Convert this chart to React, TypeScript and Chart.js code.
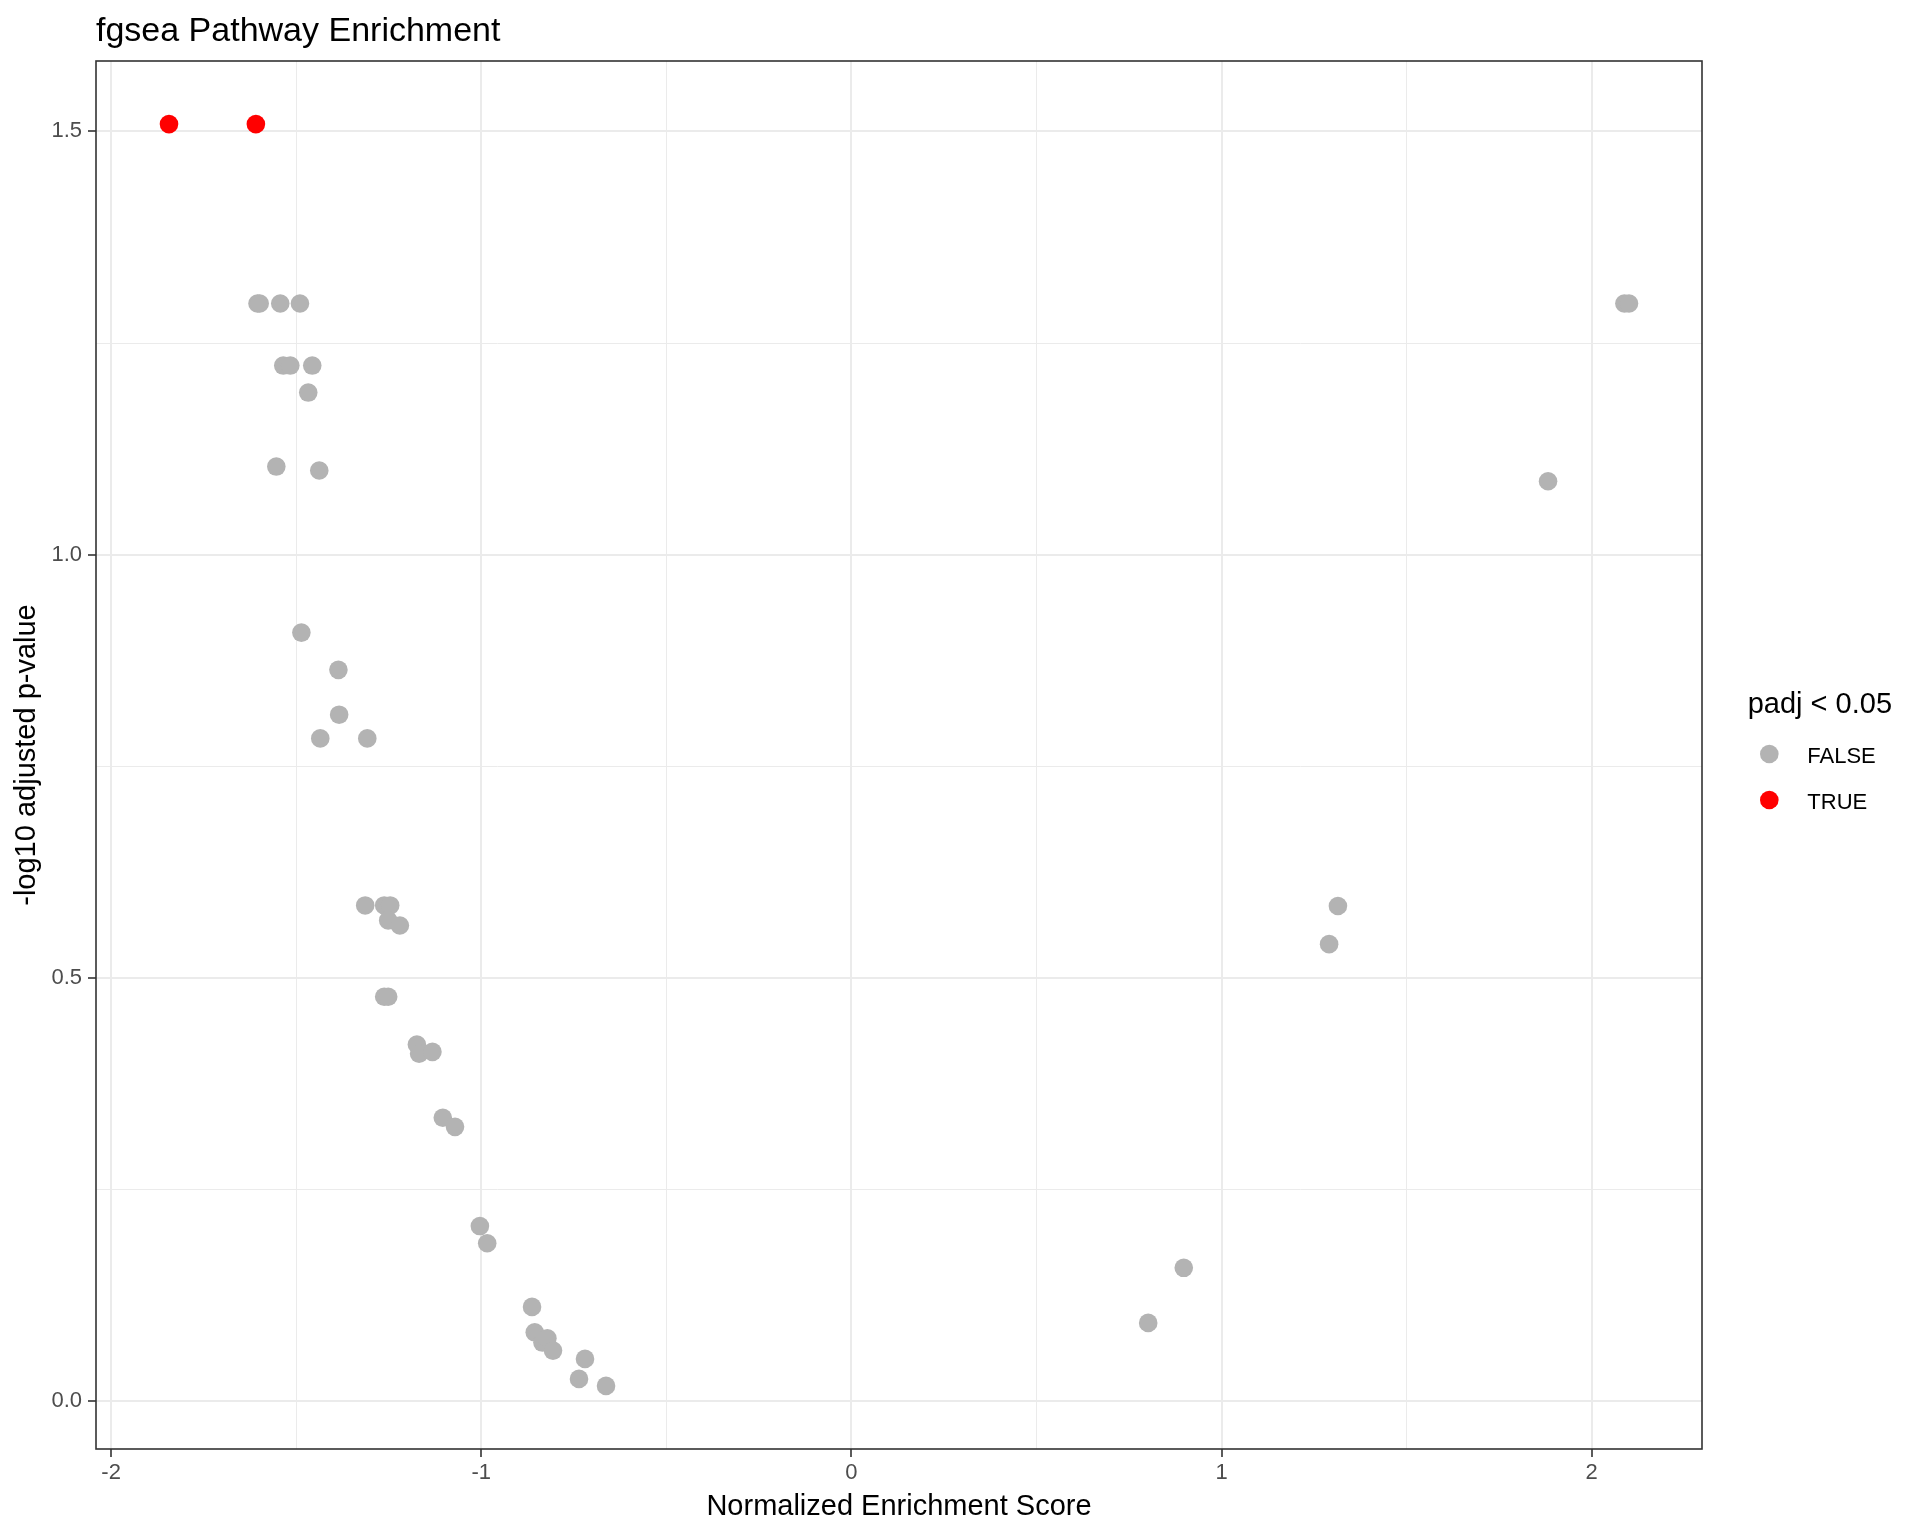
import React, { useEffect, useRef } from 'react';
import { Chart, registerables } from 'chart.js';

Chart.register(...registerables);

const TITLE = 'fgsea Pathway Enrichment';
const X_TITLE = 'Normalized Enrichment Score';
const Y_TITLE = '-log10 adjusted p-value';
const LEGEND_TITLE = 'padj < 0.05';
const SERIES_NAMES = ['FALSE', 'TRUE'];
const SERIES_COLORS = ['#B3B3B3', '#FF0000'];

// padj >= 0.05 (FALSE)
const falseNES = [
  -1.6046, -1.5987, -1.5431, -1.4899,
  -1.535, -1.516, -1.4567,
  -1.4675,
  -1.5538, -1.4377,
  -1.486,
  -1.386,
  -1.384,
  -1.435, -1.308,
  -1.3136, -1.2623, -1.2461,
  -1.2515, -1.22,
  -1.2623, -1.2515,
  -1.174, -1.168, -1.132,
  -1.104, -1.071,
  -1.0038, -0.984,
  -0.8629, -0.8556, -0.8348, -0.8214, -0.8062,
  -0.7198, -0.736, -0.663,
  0.8018, 0.8979,
  1.2906, 1.3144,
  1.8821,
  2.0883, 2.1008,
];
const falseLogPadj = [
  1.2967, 1.2967, 1.2967, 1.2967,
  1.2234, 1.2234, 1.2234,
  1.1915,
  1.1041, 1.0994,
  0.908,
  0.864,
  0.811,
  0.783, 0.783,
  0.5857, 0.5857, 0.5857,
  0.568, 0.562,
  0.4778, 0.4778,
  0.4215, 0.4105, 0.4128,
  0.3349, 0.3242,
  0.207, 0.1867,
  0.1115, 0.0815, 0.0694, 0.0745, 0.0599,
  0.0501, 0.0265, 0.0182,
  0.0926, 0.1577,
  0.54, 0.585,
  1.0867,
  1.2967, 1.2967,
];

// padj < 0.05 (TRUE)
const trueNES = [-1.8437, -1.609];
const trueLogPadj = [1.5086, 1.5086];

const xMajorTicks = [-2, -1, 0, 1, 2];
const xMinorTicks = [-1.5, -0.5, 0.5, 1.5];
const yMajorTicks = [0, 0.5, 1.0, 1.5];
const yMinorTicks = [0.25, 0.75, 1.25];

const FONT = '"Liberation Sans", Arial, Helvetica, sans-serif';

function expandRange(values: number[]) {
  const lo = Math.min(...values);
  const hi = Math.max(...values);
  const pad = (hi - lo) * 0.05;
  return { min: lo - pad, max: hi + pad };
}

function isMajor(list: number[], v: number) {
  return list.some((m) => Math.abs(m - v) < 1e-9);
}

const decorPlugin = {
  id: 'ggDecor',
  afterDatasetsDraw(chart: any) {
    const { ctx, chartArea: a } = chart;
    ctx.save();
    ctx.strokeStyle = '#333333';
    ctx.lineWidth = 1.6;
    ctx.strokeRect(a.left, a.top, a.right - a.left, a.bottom - a.top);
    ctx.restore();
  },
  afterDraw(chart: any) {
    const { ctx, chartArea: a } = chart;
    ctx.save();
    // plot title
    ctx.fillStyle = '#000000';
    ctx.font = `34px ${FONT}`;
    ctx.textAlign = 'left';
    ctx.textBaseline = 'alphabetic';
    ctx.fillText(TITLE, a.left, 41);

    // legend
    const cy = (a.top + a.bottom) / 2;
    ctx.font = `29px ${FONT}`;
    ctx.fillText(LEGEND_TITLE, a.right + 45.7, cy - 41.7);
    ctx.font = `22px ${FONT}`;
    chart.data.datasets.forEach((ds: any, i: number) => {
      const ky = cy - 1 + i * 46;
      ctx.beginPath();
      ctx.fillStyle = ds.backgroundColor;
      ctx.arc(a.right + 67.3, ky, 9.3, 0, Math.PI * 2);
      ctx.fill();
      ctx.fillStyle = '#000000';
      ctx.fillText(ds.label, a.right + 105.3, ky + 9.3);
    });
    ctx.restore();
  },
};

export default function App() {
  const canvasRef = useRef<HTMLCanvasElement | null>(null);

  useEffect(() => {
    document.body.style.margin = '0';
    const canvas = canvasRef.current;
    if (!canvas) return;

    const xr = expandRange([...falseNES, ...trueNES]);
    const yr = expandRange([...falseLogPadj, ...trueLogPadj]);
    const xTicks = [...xMajorTicks, ...xMinorTicks].sort((p, q) => p - q);
    const yTicks = [...yMajorTicks, ...yMinorTicks].sort((p, q) => p - q);

    const chart = new Chart(canvas, {
      type: 'scatter',
      data: {
        datasets: [
          {
            label: SERIES_NAMES[0],
            data: falseNES.map((x, i) => ({ x, y: falseLogPadj[i] })),
            backgroundColor: SERIES_COLORS[0],
            borderWidth: 0,
            pointRadius: 9.3,
            pointHoverRadius: 9.3,
          },
          {
            label: SERIES_NAMES[1],
            data: trueNES.map((x, i) => ({ x, y: trueLogPadj[i] })),
            backgroundColor: SERIES_COLORS[1],
            borderWidth: 0,
            pointRadius: 9.3,
            pointHoverRadius: 9.3,
          },
        ],
      },
      options: {
        animation: false,
        responsive: false,
        devicePixelRatio: 1,
        events: [],
        layout: { padding: { left: 0, right: 218, top: 61, bottom: 0 } },
        plugins: {
          legend: { display: false },
          title: { display: false },
          tooltip: { enabled: false },
        },
        scales: {
          x: {
            type: 'linear',
            position: 'bottom',
            min: xr.min,
            max: xr.max,
            afterBuildTicks: (scale: any) => {
              scale.ticks = xTicks.map((v) => ({ value: v }));
            },
            afterFit: (scale: any) => {
              scale.height = 87;
            },
            border: { display: false },
            grid: {
              color: '#EBEBEB',
              lineWidth: (c: any) => (c.tick && isMajor(xMajorTicks, c.tick.value) ? 2 : 1),
              drawTicks: true,
              tickLength: 8,
              tickWidth: 1.6,
              tickColor: (c: any) =>
                c.tick && isMajor(xMajorTicks, c.tick.value) ? '#333333' : 'rgba(0,0,0,0)',
            },
            ticks: {
              autoSkip: false,
              maxRotation: 0,
              minRotation: 0,
              padding: 3,
              color: '#4D4D4D',
              font: { family: FONT, size: 22 },
              callback: (v: any) => (isMajor(xMajorTicks, Number(v)) ? String(Number(v)) : ''),
            },
            title: {
              display: true,
              text: X_TITLE,
              color: '#000000',
              font: { family: FONT, size: 29 },
              padding: { top: 0, bottom: 12 },
            },
          },
          y: {
            type: 'linear',
            position: 'left',
            min: yr.min,
            max: yr.max,
            afterBuildTicks: (scale: any) => {
              scale.ticks = yTicks.map((v) => ({ value: v }));
            },
            afterFit: (scale: any) => {
              scale.width = 96;
            },
            border: { display: false },
            grid: {
              color: '#EBEBEB',
              lineWidth: (c: any) => (c.tick && isMajor(yMajorTicks, c.tick.value) ? 2 : 1),
              drawTicks: true,
              tickLength: 8,
              tickWidth: 1.6,
              tickColor: (c: any) =>
                c.tick && isMajor(yMajorTicks, c.tick.value) ? '#333333' : 'rgba(0,0,0,0)',
            },
            ticks: {
              autoSkip: false,
              padding: 6,
              color: '#4D4D4D',
              font: { family: FONT, size: 22 },
              callback: (v: any) => (isMajor(yMajorTicks, Number(v)) ? Number(v).toFixed(1) : ''),
            },
            title: {
              display: true,
              text: Y_TITLE,
              color: '#000000',
              font: { family: FONT, size: 29 },
              padding: { top: 10, bottom: 0 },
            },
          },
        },
      } as any,
      plugins: [decorPlugin],
    });

    return () => {
      chart.destroy();
    };
  }, []);

  return (
    <div style={{ width: 1920, height: 1536, background: '#FFFFFF' }}>
      <canvas
        ref={canvasRef}
        width={1920}
        height={1536}
        style={{ display: 'block', width: 1920, height: 1536 }}
      />
    </div>
  );
}
